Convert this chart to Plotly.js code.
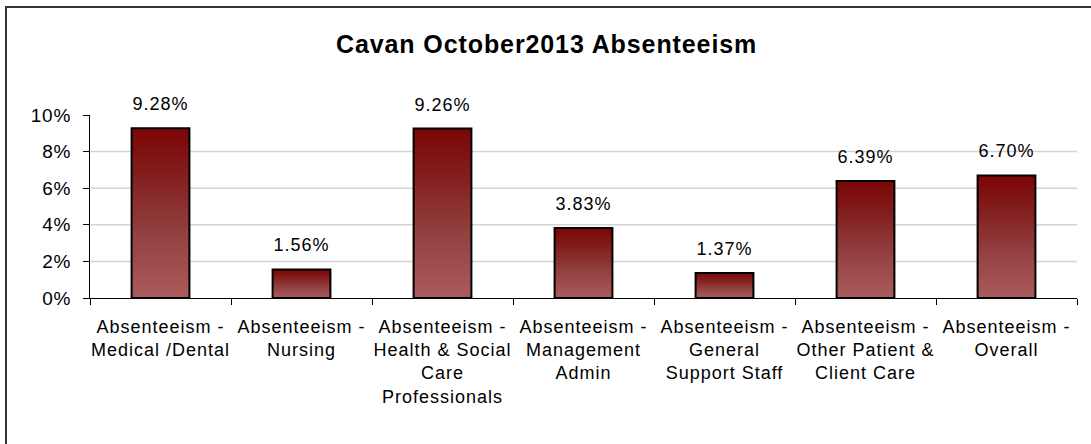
<!DOCTYPE html>
<html>
<head>
<meta charset="utf-8">
<script src="https://cdn.plot.ly/plotly-3.0.1.min.js"></script>
<style>
  html, body { margin: 0; padding: 0; background: #fff; overflow: hidden; }
  #chart { width: 1091px; height: 444px; }
  #chart .xtick text, #chart .annotation-text { letter-spacing: 1px; }
  #chart .ytick text { letter-spacing: 0.8px; }
  #chart .gtitle { letter-spacing: 0.9px; }
</style>
</head>
<body>
<div id="chart"></div>
<script>
// ---- data ----
const categories = [
  "Absenteeism -<br>Medical /Dental",
  "Absenteeism -<br>Nursing",
  "Absenteeism -<br>Health & Social<br>Care<br>Professionals",
  "Absenteeism -<br>Management<br>Admin",
  "Absenteeism -<br>General<br>Support Staff",
  "Absenteeism -<br>Other Patient &<br>Client Care",
  "Absenteeism -<br>Overall"
];
const values = [0.0928, 0.0156, 0.0926, 0.0383, 0.0137, 0.0639, 0.0670];
const valueLabels = ["9.28%", "1.56%", "9.26%", "3.83%", "1.37%", "6.39%", "6.70%"];
const yTickVals = [0, 0.02, 0.04, 0.06, 0.08, 0.10];
const gridVals = [0.02, 0.04, 0.06, 0.08];
const chartTitle = "Cavan October2013 Absenteeism";

// ---- layout constants ----
const W = 1091, H = 444;
const M = { l: 90, r: 14, t: 115, b: 146 };
const plotW = W - M.l - M.r, plotH = H - M.t - M.b;
const FONT = "Liberation Sans, Arial, sans-serif";

const trace = {
  type: "bar",
  x: categories,
  y: values,
  marker: { color: "#8f3535", line: { color: "#000", width: 2 } },
  hoverinfo: "skip"
};

const annotations = categories.map((c, i) => ({
  x: c, y: values[i], xref: "x", yref: "y",
  text: valueLabels[i], showarrow: false,
  yanchor: "bottom", yshift: 12,
  font: { family: FONT, size: 18, color: "#000" }
}));

const shapes = gridVals.map(v => ({
  type: "line", xref: "paper", yref: "y", x0: 0, x1: 1, y0: v, y1: v,
  line: { color: "#d4d4d4", width: 1.5 }, layer: "below"
}));
// outer chart border (extends past right and bottom edge like the reference)
shapes.push({
  type: "rect", xref: "paper", yref: "paper",
  x0: (6 - M.l) / plotW, x1: (W + 20 - M.l) / plotW,
  y0: -(H + 20 - M.t - plotH) / plotH, y1: (M.t + plotH - 7) / plotH,
  line: { color: "#333", width: 2 }, fillcolor: "rgba(0,0,0,0)", layer: "below"
});

const layout = {
  width: W, height: H,
  margin: M,
  paper_bgcolor: "#fff", plot_bgcolor: "rgba(0,0,0,0)",
  showlegend: false,
  bargap: 0.59,
  title: {
    text: "<b>" + chartTitle + "</b>",
    font: { family: FONT, size: 25, color: "#000" },
    x: 0.501, xanchor: "center", xref: "container",
    y: 1 - 44 / H, yanchor: "middle", yref: "container"
  },
  xaxis: {
    type: "category",
    showgrid: false, zeroline: false,
    showline: true, linecolor: "#000", linewidth: 1,
    ticks: "outside", tickson: "boundaries", ticklen: 6, tickcolor: "#000", tickwidth: 1,
    ticklabelstandoff: 12,
    tickfont: { family: FONT, size: 18, color: "#000" },
    fixedrange: true
  },
  yaxis: {
    range: [0, 0.10],
    tickvals: yTickVals, tickformat: ".0%",
    showgrid: false, zeroline: false,
    showline: true, linecolor: "#000", linewidth: 1,
    ticks: "outside", ticklen: 6, tickcolor: "#000", tickwidth: 1,
    ticklabelstandoff: 8,
    tickfont: { family: FONT, size: 19, color: "#000" },
    fixedrange: true
  },
  annotations: annotations,
  shapes: shapes
};

Plotly.newPlot("chart", [trace], layout, { displayModeBar: false, staticPlot: true }).then(gd => {
  const svg = gd.querySelector("svg.main-svg");
  let defs = svg.querySelector("defs");
  const NS = "http://www.w3.org/2000/svg";
  if (!defs) { defs = document.createElementNS(NS, "defs"); svg.insertBefore(defs, svg.firstChild); }
  const grad = document.createElementNS(NS, "linearGradient");
  grad.setAttribute("id", "barGrad");
  grad.setAttribute("x1", "0"); grad.setAttribute("y1", "0");
  grad.setAttribute("x2", "0"); grad.setAttribute("y2", "1");
  [["0", "#7c0505"], ["0.3", "#832020"], ["0.65", "#944343"], ["1", "#aa5b5b"]].forEach(([o, c]) => {
    const s = document.createElementNS(NS, "stop");
    s.setAttribute("offset", o); s.setAttribute("stop-color", c);
    grad.appendChild(s);
  });
  defs.appendChild(grad);
  gd.querySelectorAll(".trace.bars .point path").forEach(p => { p.style.fill = "url(#barGrad)"; });
});
</script>
</body>
</html>
